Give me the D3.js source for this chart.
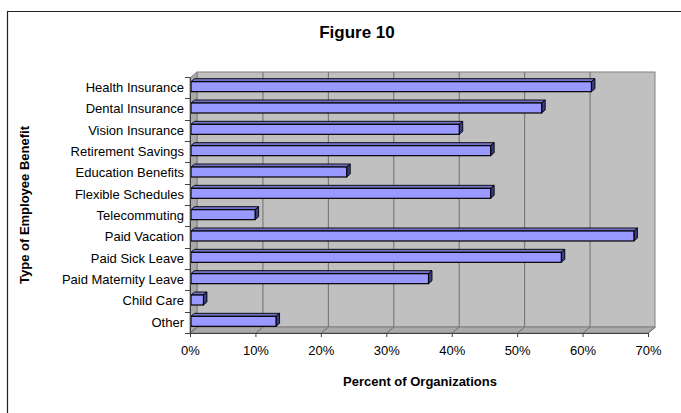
<!DOCTYPE html>
<html>
<head>
<meta charset="utf-8">
<script src="https://cdn.jsdelivr.net/npm/d3@7"></script>
<style>
  html, body { margin: 0; padding: 0; background: #fff; }
  svg { display: block; font-family: Arial, "Liberation Sans", sans-serif; }
</style>
</head>
<body>
<svg id="chart" width="681" height="413"></svg>
<script>
// Benefit categories, top to bottom
const categories = [
  "Health Insurance", "Dental Insurance", "Vision Insurance", "Retirement Savings",
  "Education Benefits", "Flexible Schedules", "Telecommuting", "Paid Vacation",
  "Paid Sick Leave", "Paid Maternity Leave", "Child Care", "Other"
];
// Percent of organizations offering each benefit
const percents = [61.2, 53.6, 41.0, 45.8, 23.8, 45.8, 9.8, 67.7, 56.6, 36.3, 1.9, 13.0];
const xTickValues = [0, 10, 20, 30, 40, 50, 60, 70];

const svg = d3.select("#chart");
const FONT = "Arial, 'Liberation Sans', sans-serif";

// Front plane of the plot box and the 3-D depth offset
const plotL = 190, plotR = 648, plotT = 78, plotB = 333;
const depthX = 7, depthY = -6;

const x = d3.scaleLinear().domain([0, 70]).range([plotL, plotR]);
const y = d3.scaleBand().domain(categories).range([plotT - 1, plotB]).paddingInner(0).paddingOuter(0);

// Chart frame (top and left edges visible)
svg.append("path")
  .attr("d", `M7.5,413 L7.5,11.5 L681,11.5`)
  .attr("fill", "none").attr("stroke", "#222").attr("stroke-width", 1.2);

// Back wall
svg.append("rect")
  .attr("x", plotL + depthX).attr("y", plotT + depthY)
  .attr("width", plotR - plotL).attr("height", plotB - plotT)
  .attr("fill", "#C0C0C0").attr("stroke", "#808080").attr("stroke-width", 1);

// Left side wall
svg.append("path")
  .attr("d", `M${plotL},${plotT} L${plotL + depthX},${plotT + depthY} L${plotL + depthX},${plotB + depthY} L${plotL},${plotB} Z`)
  .attr("fill", "#A9A9A9").attr("stroke", "#808080").attr("stroke-width", 1);

// Floor
svg.append("path")
  .attr("d", `M${plotL},${plotB} L${plotL + depthX},${plotB + depthY} L${plotR + depthX},${plotB + depthY} L${plotR},${plotB} Z`)
  .attr("fill", "#A9A9A9").attr("stroke", "#808080").attr("stroke-width", 1);

// Gridlines on back wall and floor
const grid = svg.append("g");
xTickValues.filter(v => v > 0 && v < 70).forEach(v => {
  grid.append("line")
    .attr("x1", x(v) + depthX + 0.5).attr("x2", x(v) + depthX + 0.5)
    .attr("y1", plotT + depthY).attr("y2", plotB + depthY)
    .attr("stroke", "#6E6E6E").attr("stroke-width", 1);
});
xTickValues.forEach(v => {
  grid.append("line")
    .attr("x1", x(v) + 0.5).attr("y1", plotB)
    .attr("x2", x(v) + depthX + 0.5).attr("y2", plotB + depthY)
    .attr("stroke", "#6E6E6E").attr("stroke-width", 1);
});

// 3-D bars
const barH = 10, bDX = 3.5, bDY = -3, fX = 1, fY = -1;
const bars = svg.append("g");
categories.forEach((c, i) => {
  const v = percents[i];
  const cy = y(c) + y.bandwidth() / 2;
  const x0 = x(0) + fX, x1 = x(v) + fX;
  const yt = cy - barH / 2 + fY, yb = cy + barH / 2 + fY;
  // top face
  bars.append("path")
    .attr("d", `M${x0},${yt} L${x0 + bDX},${yt + bDY} L${x1 + bDX},${yt + bDY} L${x1},${yt} Z`)
    .attr("fill", "#7373C8").attr("stroke", "#000").attr("stroke-width", 0.9).attr("stroke-linejoin", "round");
  // side face
  bars.append("path")
    .attr("d", `M${x1},${yt} L${x1 + bDX},${yt + bDY} L${x1 + bDX},${yb + bDY} L${x1},${yb} Z`)
    .attr("fill", "#3C3C80").attr("stroke", "#000").attr("stroke-width", 0.9).attr("stroke-linejoin", "round");
  // front face
  bars.append("rect")
    .attr("x", x0).attr("y", yt).attr("width", x1 - x0).attr("height", barH)
    .attr("fill", "#9999FF").attr("stroke", "#000").attr("stroke-width", 1.2);
});

// X axis (front edge of floor)
const xAxis = d3.axisBottom(x).tickValues(xTickValues).tickFormat(d => d + "%").tickSize(4).tickPadding(9);
const gx = svg.append("g").attr("transform", `translate(0,${plotB})`).call(xAxis);
gx.select(".domain").attr("stroke", "#404040");
gx.selectAll(".tick line").attr("stroke", "#404040");
gx.selectAll("text").attr("font-size", 13).attr("fill", "#000").attr("font-family", FONT);

// Y axis (front left edge)
const yAxis = d3.axisLeft(y).tickSize(0).tickPadding(6);
const gy = svg.append("g").attr("transform", `translate(${plotL},0)`).call(yAxis);
gy.select(".domain").attr("stroke", "#404040");
gy.selectAll("text").attr("font-size", 13).attr("fill", "#000").attr("font-family", FONT);
// category separator ticks
const sepTicks = categories.map(c => y(c)).concat([y.range()[1]]);
svg.append("g").selectAll("line").data(sepTicks).join("line")
  .attr("x1", plotL - 5).attr("x2", plotL)
  .attr("y1", d => Math.round(d) + 0.5).attr("y2", d => Math.round(d) + 0.5)
  .attr("stroke", "#404040");

// Titles
svg.append("text").attr("x", 357).attr("y", 38).attr("text-anchor", "middle")
  .attr("font-size", 17).attr("font-weight", "bold").attr("font-family", FONT).text("Figure 10");
svg.append("text").attr("x", 420).attr("y", 386).attr("text-anchor", "middle")
  .attr("font-size", 13).attr("font-weight", "bold").attr("font-family", FONT).text("Percent of Organizations");
svg.append("text").attr("transform", "translate(29,205) rotate(-90)").attr("text-anchor", "middle")
  .attr("font-size", 13).attr("font-weight", "bold").attr("font-family", FONT).text("Type of Employee Benefit");
</script>
</body>
</html>
